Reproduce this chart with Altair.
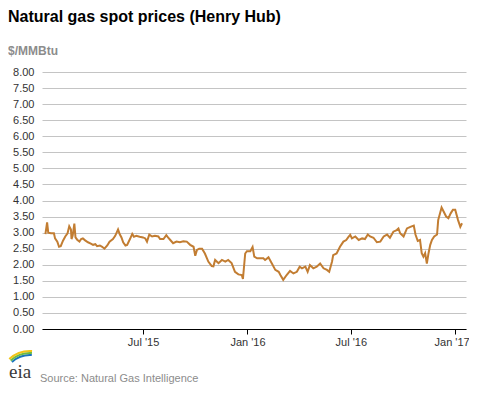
import altair as alt
import pandas as pd

# Henry Hub natural gas spot price, $/MMBtu
dates = [
    "2015-01-10", "2015-01-13", "2015-01-15", "2015-01-20", "2015-01-25", "2015-01-27",
    "2015-01-31", "2015-02-03", "2015-02-06", "2015-02-10", "2015-02-14", "2015-02-18",
    "2015-02-21", "2015-02-24", "2015-02-25", "2015-02-27", "2015-03-02", "2015-03-04",
    "2015-03-07", "2015-03-11", "2015-03-14", "2015-03-17", "2015-03-21", "2015-03-26",
    "2015-03-31", "2015-04-04", "2015-04-08", "2015-04-11", "2015-04-16", "2015-04-20",
    "2015-04-24", "2015-04-29", "2015-05-03", "2015-05-09", "2015-05-13", "2015-05-18",
    "2015-05-21", "2015-05-24", "2015-05-27", "2015-05-31", "2015-06-03", "2015-06-08",
    "2015-06-12", "2015-06-15", "2015-06-19", "2015-06-25", "2015-07-01", "2015-07-05",
    "2015-07-08", "2015-07-12", "2015-07-17", "2015-07-22", "2015-07-28", "2015-07-31",
    "2015-08-06", "2015-08-11", "2015-08-14", "2015-08-18", "2015-08-23", "2015-08-29",
    "2015-09-04", "2015-09-10", "2015-09-16", "2015-09-22", "2015-09-28", "2015-10-01",
    "2015-10-04", "2015-10-08", "2015-10-13", "2015-10-18", "2015-10-24", "2015-10-30",
    "2015-11-02", "2015-11-05", "2015-11-11", "2015-11-17", "2015-11-23", "2015-11-28",
    "2015-12-04", "2015-12-10", "2015-12-16", "2015-12-22", "2015-12-24", "2015-12-28",
    "2015-12-31", "2016-01-06", "2016-01-10", "2016-01-13", "2016-01-18", "2016-01-23",
    "2016-01-29", "2016-02-01", "2016-02-07", "2016-02-13", "2016-02-19", "2016-02-25",
    "2016-02-28", "2016-03-04", "2016-03-10", "2016-03-16", "2016-03-22", "2016-03-28",
    "2016-04-02", "2016-04-06", "2016-04-12", "2016-04-16", "2016-04-20", "2016-04-26",
    "2016-05-02", "2016-05-08", "2016-05-14", "2016-05-20", "2016-05-24", "2016-05-29",
    "2016-05-31", "2016-06-06", "2016-06-12", "2016-06-18", "2016-06-23", "2016-06-27",
    "2016-06-30", "2016-07-03", "2016-07-09", "2016-07-15", "2016-07-21", "2016-07-26",
    "2016-07-31", "2016-08-04", "2016-08-10", "2016-08-16", "2016-08-22", "2016-08-28",
    "2016-09-03", "2016-09-08", "2016-09-14", "2016-09-20", "2016-09-23", "2016-09-26",
    "2016-10-02", "2016-10-08", "2016-10-14", "2016-10-20", "2016-10-23", "2016-10-27",
    "2016-10-31", "2016-11-03", "2016-11-06", "2016-11-09", "2016-11-12", "2016-11-15",
    "2016-11-18", "2016-11-21", "2016-11-25", "2016-11-30", "2016-12-02", "2016-12-08",
    "2016-12-10", "2016-12-16", "2016-12-20", "2016-12-24", "2016-12-28", "2017-01-01",
    "2017-01-06", "2017-01-10", "2017-01-13",
]
prices = [
    2.95, 3.32, 3.00, 2.98, 2.98, 2.82,
    2.72, 2.56, 2.58, 2.75, 2.88, 2.98,
    3.20, 3.10, 2.80, 2.90, 3.28, 2.85,
    2.78, 2.72, 2.80, 2.82, 2.76, 2.70,
    2.66, 2.62, 2.64, 2.58, 2.60, 2.56,
    2.50, 2.60, 2.72, 2.80, 2.90, 3.10,
    2.95, 2.85, 2.70, 2.60, 2.62, 2.80,
    2.96, 2.87, 2.90, 2.87, 2.85, 2.82,
    2.72, 2.94, 2.88, 2.90, 2.88, 2.80,
    2.80, 2.92, 2.85, 2.77, 2.67, 2.72,
    2.70, 2.73, 2.72, 2.62, 2.56, 2.28,
    2.46, 2.50, 2.50, 2.35, 2.10, 1.96,
    1.95, 2.15, 2.05, 2.15, 2.10, 2.15,
    2.05, 1.78, 1.70, 1.68, 1.56, 2.35,
    2.42, 2.42, 2.55, 2.25, 2.20, 2.20,
    2.20, 2.15, 2.23, 2.04, 1.84, 1.78,
    1.68, 1.53, 1.68, 1.81, 1.73, 1.78,
    1.94, 1.89, 1.94, 1.78, 1.99, 1.89,
    1.94, 2.04, 1.89, 1.84, 1.78, 2.10,
    2.30, 2.35, 2.56, 2.72, 2.77, 2.87,
    2.93, 2.82, 2.88, 2.77, 2.82, 2.80,
    2.94, 2.88, 2.84, 2.70, 2.72, 2.88,
    2.94, 2.84, 3.03, 3.08, 3.13, 2.98,
    2.88, 3.13, 3.18, 3.22, 2.94, 2.74,
    2.77, 2.36, 2.25, 2.36, 2.04, 2.36,
    2.62, 2.77, 2.88, 2.94, 3.39, 3.78,
    3.71, 3.50, 3.45, 3.60, 3.71, 3.71,
    3.39, 3.18, 3.29,
]
x_tick_dates = [(2015, 7, 1), (2016, 1, 1), (2016, 7, 1), (2017, 1, 1)]
y_ticks = [0.0, 0.5, 1.0, 1.5, 2.0, 2.5, 3.0, 3.5, 4.0, 4.5, 5.0, 5.5, 6.0, 6.5, 7.0, 7.5, 8.0]

title_text = "Natural gas spot prices (Henry Hub)"
unit_text = "$/MMBtu"
source_text = "Source: Natural Gas Intelligence"

FONT = "Liberation Sans"
LINE_COLOR = "#C27D32"

df = pd.DataFrame({"date": dates, "price": prices})

x_enc = alt.X(
    "date:T",
    title=None,
    scale=alt.Scale(
        type="utc",
        domain=[alt.DateTime(year=2015, month=1, date=4, utc=True),
                alt.DateTime(year=2017, month=1, date=20, utc=True)],
    ),
    axis=alt.Axis(
        values=[alt.DateTime(year=y, month=m, date=d, utc=True) for (y, m, d) in x_tick_dates],
        labelExpr="utcFormat(datum.value, \"%b '%y\")",
        grid=False,
        domainColor="#000000",
        domainWidth=1,
        tickColor="#000000",
        tickSize=5,
        labelFont=FONT,
        labelFontSize=11,
        labelColor="#333333",
        labelPadding=2,
        labelFlush=15,
        labelFlushOffset=14,
    ),
)
y_enc = alt.Y(
    "price:Q",
    title=None,
    scale=alt.Scale(domain=[0, 8], nice=False),
    axis=alt.Axis(
        values=y_ticks,
        format=".2f",
        grid=True,
        gridColor="#c4c4c4",
        gridWidth=1,
        domain=False,
        ticks=False,
        labelPadding=8,
        labelFont=FONT,
        labelFontSize=11,
        labelColor="#333333",
    ),
)

line = alt.Chart(df).mark_line(color=LINE_COLOR, strokeWidth=2).encode(x=x_enc, y=y_enc)


def label(text, x, y, size, color, weight="normal", font=FONT):
    return alt.Chart(pd.DataFrame({"t": [text]})).mark_text(
        align="left", baseline="alphabetic", fontSize=size, font=font,
        fontWeight=weight, color=color,
    ).encode(x=alt.value(x), y=alt.value(y), text="t:N")


title = label(title_text, -34, -50, 16, "#000000", "bold")
unit = label(unit_text, -34, -17, 12, "#8c8c8c", "bold")
source = label(source_text, -2, 310, 11, "#8c8c8c")
logo_txt = label("eia", -33, 306, 19, "#3a3a3a", "normal", "Liberation Serif")


def arc_band(r1, r2, color):
    return alt.Chart(pd.DataFrame({"a": [0]})).mark_arc(color=color).encode(
        x=alt.value(-12), y=alt.value(310),
        radius=alt.value(r2), radius2=alt.value(r1),
        theta=alt.value(5.55), theta2=alt.value(6.35),
    )


logo = arc_band(26, 28, "#1b75bc") + arc_band(28, 30, "#6cbb45") + arc_band(30, 32, "#f2c418")

chart = (
    alt.layer(line, title, unit, source, logo_txt, logo)
    .properties(
        width=424,
        height=257,
        padding={"left": 34, "top": 64, "right": 3, "bottom": 56},
        autosize=alt.AutoSizeParams(type="none"),
        background="#ffffff",
    )
    .configure_view(stroke=None)
)

chart.save("out.html", embed_options={"renderer": "svg", "actions": False})
